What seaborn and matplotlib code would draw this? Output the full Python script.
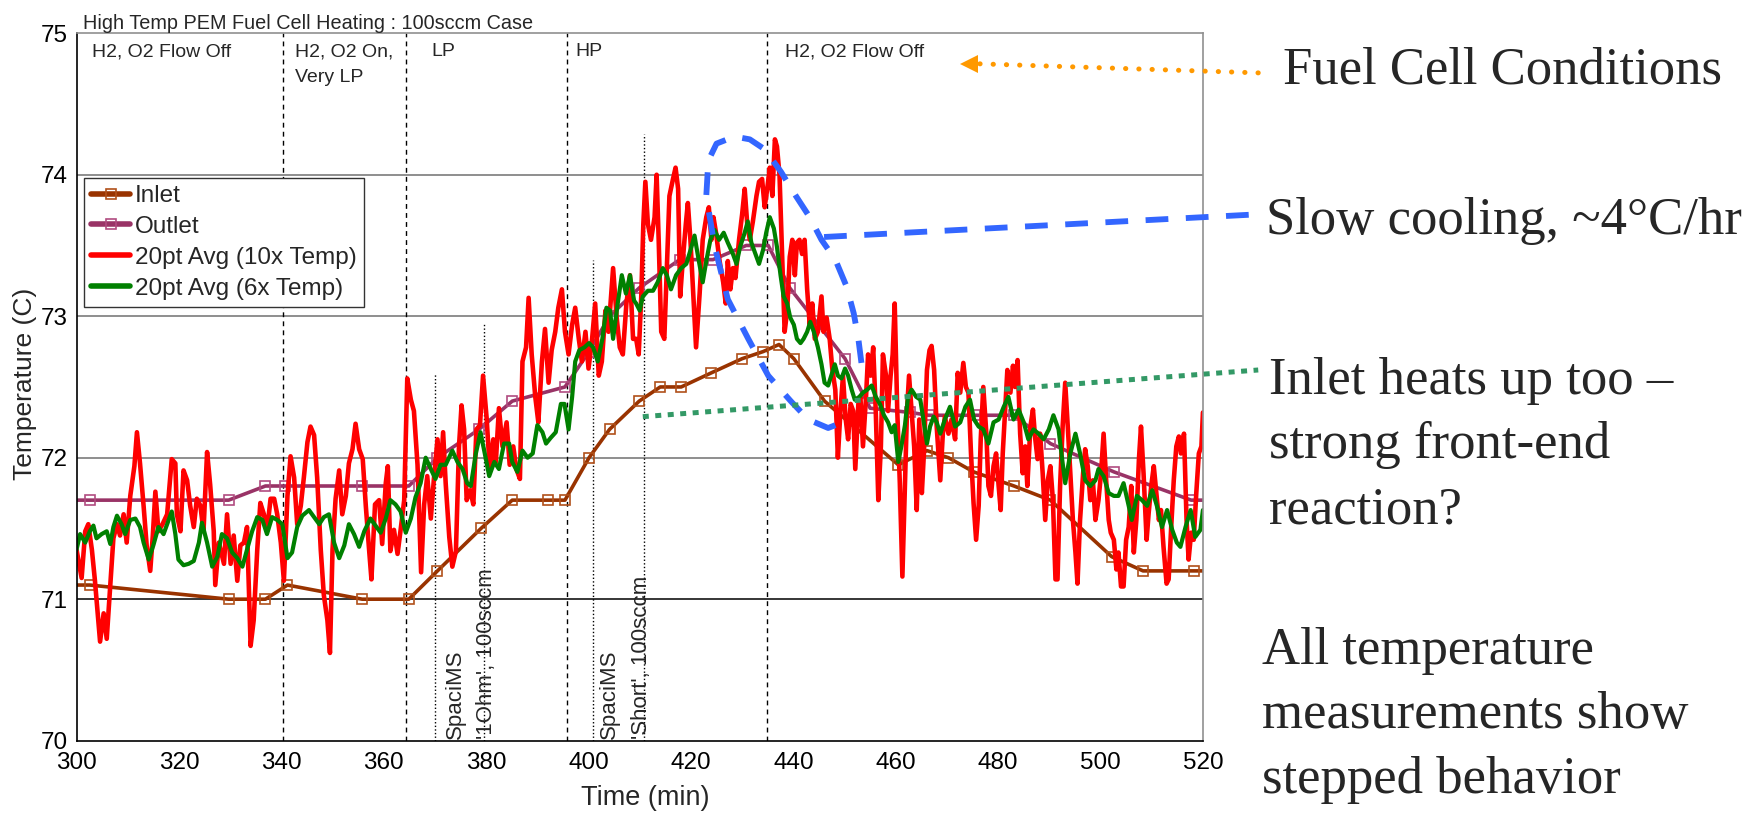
import numpy as np
import matplotlib
matplotlib.use("Agg")
import matplotlib.pyplot as plt
import seaborn as sns
from matplotlib.ticker import MultipleLocator

# ---- data ----
inlet_t = [300.0, 302.6, 329.7, 336.9, 341.2, 355.8, 364.9, 370.5, 379.0, 385.1, 392.0, 395.4,
           400.1, 404.1, 409.9, 414.0, 418.1, 424.0, 430.0, 434.1, 437.2, 440.1, 446.1, 460.5,
           466.1, 470.3, 475.2, 483.1, 490.2, 502.2, 508.3, 518.2, 520.0]
inlet_v = [71.10, 71.10, 71.00, 71.00, 71.10, 71.00, 71.00, 71.20, 71.50, 71.70, 71.70, 71.70,
           72.00, 72.20, 72.40, 72.50, 72.50, 72.60, 72.70, 72.75, 72.80, 72.70, 72.40, 71.95,
           72.05, 72.00, 71.90, 71.80, 71.70, 71.30, 71.20, 71.20, 71.20]

outlet_t = [300.0, 302.6, 329.7, 336.9, 340.8, 355.8, 364.9, 370.5, 378.6, 385.1, 395.4, 400.1,
            404.1, 409.9, 417.8, 424.3, 430.8, 435.1, 439.3, 450.1, 455.0, 462.8, 466.4, 475.5,
            483.1, 490.2, 502.6, 517.7, 520.0]
outlet_v = [71.70, 71.70, 71.70, 71.80, 71.80, 71.80, 71.80, 72.00, 72.20, 72.40, 72.50, 72.75,
            73.00, 73.20, 73.40, 73.40, 73.50, 73.50, 73.20, 72.70, 72.35, 72.32, 72.30, 72.30,
            72.30, 72.10, 71.90, 71.70, 71.70]

red_t = [300.0, 301.0, 301.7, 302.3, 303.0, 303.6, 304.6, 305.3, 305.9, 306.6, 307.2, 307.9,
         308.5, 309.2, 309.8, 310.5, 311.3, 311.8, 312.4, 313.1, 313.7, 314.4, 314.9, 315.4,
         316.0, 316.8, 317.7, 318.6, 319.3, 319.6, 320.3, 320.9, 321.6, 322.2, 322.9, 323.5,
         324.2, 324.8, 325.5, 326.1, 326.8, 327.1, 327.8, 328.8, 329.4, 330.1, 330.7, 331.4,
         332.0, 332.7, 333.3, 334.0, 334.6, 335.3, 335.9, 336.6, 337.2, 337.9, 338.6, 339.2,
         339.9, 340.5, 341.2, 341.8, 342.5, 343.1, 343.8, 344.4, 345.1, 345.7, 346.4, 347.0,
         347.7, 348.3, 349.0, 349.5, 350.0, 350.6, 351.3, 351.9, 352.6, 353.2, 353.9, 354.5,
         355.2, 355.9, 356.5,
         357.1, 357.6, 358.3, 359.1, 359.7, 360.4, 360.8, 361.3, 362.0, 362.7, 363.3, 364.0,
         364.6, 365.3, 365.9, 366.6, 367.3, 367.9, 368.5, 369.2, 369.8, 370.5, 371.1, 371.6,
         372.1, 372.8, 373.4, 374.1, 374.7, 375.2, 375.7, 376.2, 376.9, 377.5, 378.1, 378.8,
         379.4, 380.1, 380.7, 381.4, 381.9, 382.5, 383.2, 384.0, 384.6, 385.3, 385.9, 386.6,
         387.1, 387.8, 388.3, 388.9, 389.6, 390.2, 390.9, 391.5, 392.2, 392.8, 393.5, 394.1,
         394.8, 395.4, 396.1, 396.8, 397.4, 398.1, 398.7, 399.4, 400.0, 400.7, 401.3, 402.0,
         402.6, 403.3, 403.9, 404.8, 405.5, 406.1, 406.7, 407.4, 408.1, 408.7,
         409.3, 409.8, 410.3, 410.7, 411.1, 411.6, 412.2, 412.9, 413.3, 413.7, 414.2, 414.8,
         415.3, 415.8, 416.5, 417.0, 417.5, 417.9, 418.4, 419.0, 419.4, 419.9, 420.4, 421.0,
         421.7, 422.3, 423.0, 423.5, 424.0, 424.4, 424.9, 425.6, 426.3, 426.8, 427.2, 427.7,
         428.2, 428.7, 429.4, 430.0, 430.5, 431.0, 431.5, 432.1, 432.8, 433.3, 433.9, 434.4,
         434.9, 435.4, 435.9, 436.4, 436.8, 437.3, 437.9, 438.3, 438.8, 439.3, 439.8, 440.3,
         440.7, 441.2, 441.7, 442.2, 442.7, 443.2, 443.7, 444.2, 444.8, 445.5, 445.9, 446.5,
         447.1, 447.6, 448.2, 448.7, 449.2, 449.7, 450.2, 450.7, 451.2, 451.7, 452.1, 452.7,
         453.1, 453.6, 454.2, 454.6, 455.1, 455.6, 456.1, 456.6, 457.1, 457.5, 458.1, 458.5,
         459.0, 459.4, 459.8, 460.3, 460.8, 461.3, 461.8, 462.2, 462.6, 463.1, 463.6,
         464.1, 464.6, 465.1, 465.5, 466.1, 466.6, 467.0, 467.5, 468.0, 468.7, 469.2, 469.6,
         470.3, 470.9, 471.6, 472.1, 472.6, 473.2, 473.7, 474.2, 474.7, 475.2, 475.7, 476.2,
         476.6, 477.1, 477.7, 478.1, 478.6, 479.1, 479.6, 480.1, 480.5, 480.9, 481.4, 481.8,
         482.4, 482.9, 483.3, 483.8, 484.3, 484.8, 485.3, 485.7, 486.3, 486.8, 487.2, 487.7,
         488.2, 488.7, 489.2, 489.7, 490.2, 490.7, 491.2, 491.6, 492.1, 492.6, 493.1, 493.6,
         494.1, 494.6, 495.1, 495.5, 496.0, 496.6, 497.0, 497.5, 498.0, 498.5, 499.0, 499.6,
         500.1, 500.6, 501.1, 501.6, 502.0, 502.6, 503.1, 503.5, 504.0, 504.5, 505.0, 505.5,
         506.0, 506.5, 507.0, 507.5, 507.9, 508.4, 509.0, 509.4, 509.9, 510.4, 510.9, 511.4,
         511.8, 512.3, 512.9, 513.3, 513.8, 514.3, 514.8, 515.3, 515.7, 516.3, 516.8, 517.2,
         517.7, 518.2, 518.7, 519.2, 519.7, 520.0]
red_v = [71.35, 71.15, 71.48, 71.53, 71.35, 71.13, 70.70, 70.90, 70.72, 71.10, 71.43, 71.53,
         71.45, 71.60, 71.40, 71.73, 71.94, 72.18, 71.96, 71.66, 71.38, 71.20, 71.45, 71.76,
         71.48, 71.53, 71.60, 71.99, 71.96, 71.60, 71.48, 71.91, 71.84, 71.66, 71.51, 71.71,
         71.66, 71.48, 72.04, 71.81, 71.48, 71.10, 71.40, 71.25, 71.60, 71.25, 71.45, 71.13,
         71.38, 71.40, 71.51, 70.67, 70.85, 71.35, 71.68, 71.60, 71.48, 71.71, 71.71, 71.60,
         71.40, 71.13, 71.73, 72.01, 71.86, 71.53, 71.66, 71.86, 72.11, 72.22, 72.16, 71.86,
         71.35, 71.03, 70.85, 70.62, 71.35, 71.71, 71.91, 71.60, 71.73, 71.96, 72.06, 72.24,
         72.06, 71.99, 71.66,
         71.37, 71.14, 71.67, 71.70, 71.39, 71.82, 71.94, 71.34, 71.49, 71.32, 71.49, 71.70,
         72.56, 72.41, 72.33, 71.95, 71.19, 71.67, 71.87, 71.57, 71.85, 72.13, 71.87, 72.18,
         71.82, 71.44, 71.23, 71.34, 72.08, 72.37, 72.20, 71.70, 71.77, 71.67, 72.20, 72.23,
         72.58, 72.28, 71.92, 72.13, 71.97, 72.35, 72.08, 72.25, 71.95, 72.08, 71.92, 71.85,
         72.68, 72.78, 73.13, 72.73, 72.43, 72.25, 72.68, 72.91, 72.53, 72.76, 72.89, 73.06,
         73.19, 72.89, 72.73, 72.94, 73.06, 72.84, 72.68, 72.89, 72.63, 72.84, 73.09, 72.58,
         72.68, 73.04, 72.89, 73.34, 72.99, 72.78, 72.73, 73.09, 73.29, 72.84,
         72.84, 72.73, 73.14, 73.65, 73.95, 73.65, 73.54, 73.70, 74.00, 73.54, 72.89, 72.84,
         73.34, 73.85, 73.97, 74.05, 73.90, 73.14, 73.39, 73.65, 73.80, 73.54, 73.19, 72.78,
         73.16, 73.54, 73.70, 73.77, 73.54, 73.70, 73.59, 73.39, 73.24, 73.09, 73.39, 73.19,
         73.34, 73.27, 73.54, 73.72, 73.90, 73.65, 73.54, 73.67, 73.85, 73.95, 73.97, 73.77,
         73.90, 74.05, 73.85, 74.25, 74.20, 74.00, 73.34, 72.89, 73.04, 73.42, 73.54, 73.29,
         73.52, 73.54, 73.44, 73.54, 73.19, 72.94, 73.09, 72.84, 72.89, 73.14, 72.89, 72.99,
         72.84, 72.63, 72.48, 72.00, 72.33, 72.58, 72.28, 72.13, 72.38, 72.33, 71.92, 72.38,
         72.43, 72.08, 72.43, 72.73, 72.58, 72.78, 72.33, 71.70, 72.08, 72.73, 72.58, 72.33,
         72.58, 72.73, 73.09, 72.33, 71.82, 71.16, 71.82, 72.33, 72.58, 72.33, 72.08,
         71.63, 72.27, 71.75, 72.03, 72.62, 72.76, 72.79, 72.62, 72.22, 71.84, 72.17, 72.29,
         72.17, 72.27, 72.13, 72.60, 72.46, 72.67, 72.50, 72.46, 72.03, 71.68, 71.42, 71.66,
         72.13, 72.50, 72.17, 71.80, 71.73, 71.94, 72.03, 71.80, 71.63, 72.03, 72.36, 72.62,
         72.46, 72.65, 72.50, 72.69, 72.17, 71.89, 72.08, 71.80, 72.22, 72.34, 72.15, 71.99,
         72.17, 71.89, 71.56, 71.84, 71.94, 71.70, 71.14, 71.14, 71.80, 72.22, 72.53, 72.22,
         71.89, 71.56, 71.33, 71.11, 71.56, 71.89, 72.06, 71.94, 71.70, 71.84, 71.56, 71.70,
         71.89, 72.17, 71.84, 71.56, 71.47, 71.42, 71.21, 71.33, 71.09, 71.09, 71.42, 71.51,
         71.80, 71.33, 71.56, 71.99, 72.22, 71.89, 71.42, 71.61, 71.80, 71.94, 71.75, 71.56,
         71.63, 71.37, 71.11, 71.14, 71.51, 71.84, 72.08, 72.15, 72.03, 72.17, 71.56, 71.28,
         71.47, 71.42, 71.75, 72.03, 72.08, 72.32]

green_t = [300.0, 300.7, 301.7, 302.6, 303.3, 303.9, 304.9, 305.9, 306.6, 307.2, 307.9, 308.8,
           309.5, 310.5, 311.5, 312.4, 313.1, 314.1, 315.0, 316.0, 317.0, 318.0, 318.6, 319.3,
           319.9, 320.9, 321.9, 322.9, 323.9, 324.5, 325.5, 326.5, 327.5, 328.4, 329.4, 330.4,
           331.4, 332.4, 333.3, 334.3, 335.3, 336.3, 337.2, 338.2, 339.2, 340.2, 341.2, 342.1,
           343.1, 344.1, 345.4, 346.4, 347.4, 348.3, 349.3, 350.3, 351.3, 352.3, 353.2, 354.2,
           355.2, 356.2,
           357.4, 358.4, 359.4, 360.4, 361.3, 362.3, 363.3, 364.3, 365.3, 366.2, 367.2, 368.2,
           369.2, 370.1, 371.1, 372.1, 373.4, 374.4, 375.4, 376.3, 377.0, 378.0, 378.9, 379.9,
           380.6, 381.6, 382.5, 383.5, 384.5, 385.1, 386.1, 387.1, 388.1, 389.1, 390.0, 391.0,
           391.7, 392.6, 393.6, 394.6, 395.3, 396.1, 396.8, 397.4, 398.2, 399.2, 400.1, 400.9,
           401.8, 402.7, 403.5, 404.2, 404.8, 405.7, 406.5, 407.3, 408.1, 408.9,
           409.3, 410.0, 410.6, 411.6, 412.6, 413.5, 414.5, 415.3, 416.1, 417.1, 418.1, 419.1,
           420.1, 420.7, 421.4, 422.3, 423.0, 423.8, 424.6, 425.5, 426.4, 427.2, 428.2, 428.9,
           429.6, 430.5, 431.1, 431.8, 432.6, 433.3, 434.1, 434.7, 435.4, 436.2, 436.8, 437.5,
           438.1, 438.8, 439.4, 440.1, 440.7, 441.4, 442.0, 442.7, 443.3, 444.0, 444.8, 445.5,
           446.1, 446.8, 447.4, 448.1, 448.7, 449.4, 450.1, 450.7, 451.4, 452.0, 452.9, 453.6,
           454.4, 455.3, 456.1, 456.9, 457.7, 458.5, 459.2, 459.8, 460.5, 461.1, 461.8, 462.4,
           463.1, 464.0,
           464.8, 465.4, 466.1, 466.7, 467.4, 468.0, 468.7, 469.6, 470.6, 471.6, 472.6, 473.6,
           474.5, 475.3, 476.2, 477.1, 478.1, 479.1, 480.1, 481.1, 482.0, 483.0, 484.0, 485.0,
           485.9, 486.9, 487.9, 488.9, 489.9, 490.8, 491.8, 492.5, 493.1, 494.1, 495.1, 496.0,
           497.0, 498.0, 499.0, 499.6, 500.6, 501.6, 502.6, 503.5, 504.5, 505.5, 506.1, 507.1,
           508.1, 509.1, 510.1, 511.0, 512.0, 513.0, 514.0, 514.9, 515.6, 516.6, 517.6, 518.5,
           519.5, 520.0]
green_v = [71.35, 71.46, 71.40, 71.48, 71.52, 71.43, 71.46, 71.48, 71.39, 71.51, 71.59, 71.53,
           71.46, 71.56, 71.57, 71.51, 71.40, 71.28, 71.38, 71.51, 71.46, 71.56, 71.62, 71.46,
           71.28, 71.24, 71.25, 71.27, 71.40, 71.54, 71.40, 71.23, 71.30, 71.46, 71.43, 71.33,
           71.29, 71.23, 71.35, 71.48, 71.58, 71.56, 71.46, 71.58, 71.56, 71.53, 71.29, 71.33,
           71.51, 71.59, 71.63, 71.58, 71.53, 71.58, 71.60, 71.40, 71.29, 71.38, 71.53, 71.46,
           71.37, 71.48,
           71.57, 71.52, 71.47, 71.57, 71.70, 71.67, 71.62, 71.47, 71.57, 71.72, 71.82, 72.00,
           71.92, 71.85, 71.95, 71.95, 72.05, 71.97, 71.92, 71.82, 71.80, 72.03, 72.18, 72.00,
           71.87, 71.97, 71.92, 72.10, 72.10, 71.97, 71.90, 72.05, 72.00, 72.03, 72.23, 72.18,
           72.10, 72.14, 72.18, 72.38, 72.38, 72.20, 72.43, 72.68, 72.76, 72.78, 72.81, 72.78,
           72.68, 72.84, 73.06, 73.04, 72.84, 73.09, 73.29, 73.16, 73.29, 73.11,
           73.09, 73.04, 73.14, 73.18, 73.18, 73.24, 73.34, 73.29, 73.19, 73.29, 73.34, 73.37,
           73.49, 73.57, 73.42, 73.24, 73.39, 73.54, 73.61, 73.54, 73.59, 73.52, 73.44, 73.37,
           73.49, 73.59, 73.67, 73.52, 73.44, 73.37, 73.47, 73.59, 73.70, 73.62, 73.49, 73.29,
           73.14, 73.09, 72.99, 72.94, 72.84, 72.81, 72.84, 72.89, 72.96, 72.89, 72.78, 72.66,
           72.53, 72.51, 72.58, 72.66, 72.58, 72.56, 72.63, 72.58, 72.48, 72.41, 72.43, 72.46,
           72.48, 72.51, 72.43, 72.38, 72.30, 72.25, 72.18, 72.23, 71.97, 72.08, 72.23, 72.43,
           72.48, 72.43,
           72.41, 72.27, 72.10, 72.22, 72.29, 72.25, 72.17, 72.27, 72.36, 72.22, 72.25, 72.36,
           72.41, 72.27, 72.22, 72.20, 72.10, 72.25, 72.27, 72.36, 72.43, 72.27, 72.34, 72.25,
           72.13, 72.20, 72.17, 72.13, 72.20, 72.30, 72.20, 71.99, 71.82, 72.03, 72.17, 72.03,
           71.84, 71.80, 71.84, 71.92, 71.87, 71.75, 71.73, 71.73, 71.82, 71.66, 71.56, 71.73,
           71.70, 71.66, 71.77, 71.66, 71.51, 71.63, 71.49, 71.40, 71.37, 71.51, 71.63, 71.44,
           71.49, 71.63]

# condition boundaries and SpaciMS events
phase_lines = [340.4, 364.3, 395.7, 434.9]
phase_labels = ["H2, O2 Flow Off", "H2, O2 On,\nVery LP", "LP", "HP", "H2, O2 Flow Off"]
phase_label_x = [303.0, 342.6, 369.3, 397.4, 438.4]
event_x = [370.1, 379.6, 400.8, 410.8]
event_top = [72.6, 72.95, 73.4, 74.29]
event_labels = ["SpaciMS\n'1Ohm', 100sccm", "SpaciMS\n'Short', 100sccm"]
event_label_x = [371.9, 402.1]

# hand-drawn callouts (data coords)
loop_t = [448.2, 446.8, 442.9, 439.5, 435.1, 431.2, 427.2, 424.6, 423.0, 423.4, 425.0, 428.5,
          431.5, 434.4, 437.6, 440.5, 443.2, 445.5, 448.2, 450.4, 451.8, 452.7, 453.3]
loop_v = [72.23, 72.21, 72.27, 72.40, 72.58, 72.84, 73.12, 73.50, 73.85, 74.10, 74.22, 74.27,
          74.25, 74.18, 74.02, 73.85, 73.70, 73.54, 73.40, 73.21, 73.02, 72.84, 72.67]
cool_t = [446.0, 530.6]
cool_v = [73.56, 73.72]
inlet_note_t = [410.6, 530.8]
inlet_note_v = [72.29, 72.62]
cond_arrow_t = [530.8, 475.5]
cond_arrow_v = [74.72, 74.785]

sns.set_style("white")
plt.rcParams['font.family'] = ['Liberation Sans', 'DejaVu Sans']

fig = plt.figure(figsize=(17.51, 8.15), dpi=100)
ax = fig.add_axes([0.0437, 0.0912, 0.6433, 0.868])

mk = dict(marker='s', markersize=7, markerfacecolor='none', markeredgewidth=1.2)
sns.lineplot(x=inlet_t, y=inlet_v, ax=ax, color='#993300', linewidth=2.6, label='Inlet',
             markeredgecolor='#b0501a', markevery=list(range(1, len(inlet_t) - 1)),
             sort=False, estimator=None, **mk)
sns.lineplot(x=outlet_t, y=outlet_v, ax=ax, color='#993366', linewidth=2.6, label='Outlet',
             markeredgecolor='#b04c80', markevery=list(range(1, len(outlet_t) - 1)),
             sort=False, estimator=None, **mk)
sns.lineplot(x=red_t, y=red_v, ax=ax, color='#ff0000', linewidth=3.3,
             label='20pt Avg (10x Temp)', sort=False, estimator=None)
sns.lineplot(x=green_t, y=green_v, ax=ax, color='#008000', linewidth=3.0,
             label='20pt Avg (6x Temp)', sort=False, estimator=None)

ax.set_xlim(300, 520)
ax.set_ylim(70, 75)
ax.xaxis.set_major_locator(MultipleLocator(20))
ax.xaxis.set_minor_locator(MultipleLocator(10))
ax.yaxis.set_major_locator(MultipleLocator(1))
ax.yaxis.set_minor_locator(MultipleLocator(0.5))
ax.tick_params(axis='both', which='major', direction='inout', length=10, width=1,
               color='black', labelsize=17.5, labelcolor='black')
ax.tick_params(axis='x', which='major', pad=3)
ax.tick_params(axis='y', which='major', pad=1.5)
ax.tick_params(axis='x', which='minor', direction='inout', length=8, width=1, color='black')
ax.tick_params(axis='y', which='minor', direction='out', length=5, width=1, color='black')
ax.yaxis.set_major_formatter(matplotlib.ticker.FormatStrFormatter('%d'))

ax.grid(False)
for yv in [72, 73, 74]:
    ax.axhline(yv, color='#707070', lw=1.1, zorder=0.5)
ax.axhline(71, color='black', lw=1.1, zorder=0.5)

for side in ['left', 'bottom']:
    ax.spines[side].set_color('black')
    ax.spines[side].set_linewidth(1.2)
for side in ['top', 'right']:
    ax.spines[side].set_color('#909090')
    ax.spines[side].set_linewidth(1.2)

for x in phase_lines:
    ax.axvline(x, color='black', lw=1.0, linestyle=(0, (3.5, 3)), zorder=1)
for x, top in zip(event_x, event_top):
    ax.plot([x, x], [70, top], color='black', lw=1.0, linestyle=(0, (1, 1.6)), zorder=1)

for x, s in zip(phase_label_x, phase_labels):
    ax.text(x, 74.93, s, fontsize=14, ha='left', va='top', linespacing=1.7)
for x, s in zip(event_label_x, event_labels):
    ax.text(x, 70.01, s, fontsize=16, rotation=90, ha='left', va='bottom', linespacing=1.65)

ax.set_xlabel("Time (min)", fontsize=19.5)
ax.set_ylabel("Temperature (C)", fontsize=19)
ax.xaxis.set_label_coords(0.505, -0.081)
ax.xaxis.label.set_va('center')
ax.yaxis.set_label_coords(-0.046, 0.505)
ax.yaxis.label.set_va('center')

leg = ax.legend(loc='upper left', bbox_to_anchor=(0.0067, 0.7955), borderaxespad=0,
                fontsize=17.5, frameon=True, fancybox=False, framealpha=1, edgecolor='#333333',
                handlelength=1.6, handletextpad=0.2, labelspacing=0.36, borderpad=0.3,
                numpoints=1)
leg.get_frame().set_linewidth(1.0)
for h in leg.legend_handles:
    h.set_linewidth(4)

# callouts drawn over the chart
ax.plot(loop_t, loop_v, color='#3366ff', lw=4.2, linestyle=(0, (3.9, 3.0)),
        clip_on=False, zorder=6, solid_capstyle='butt')
ax.plot(cool_t, cool_v, color='#3366ff', lw=4.2, linestyle=(0, (3.9, 3.0)),
        clip_on=False, zorder=6)
ax.plot(inlet_note_t, inlet_note_v, color='#339966', lw=3.6, linestyle=(0, (1.2, 1.3)),
        clip_on=False, zorder=6)
ax.plot(cond_arrow_t, cond_arrow_v, color='#ff9900', lw=3.6, linestyle=(0, (0.05, 2.6)),
        dash_capstyle='round', clip_on=False, zorder=6)
ax.plot([cond_arrow_t[1] - 1.2], [cond_arrow_v[1]], marker='<', markersize=13,
        color='#ff9900', clip_on=False, zorder=6, markeredgewidth=0)

fig.text(0.0475, 0.965, "High Temp PEM Fuel Cell Heating : 100sccm Case", fontsize=14.3,
         ha='left', va='baseline')

serif = ['Liberation Serif', 'DejaVu Serif']
fig.text(0.7327, 1 - 84 / 815, "Fuel Cell Conditions", fontsize=38, family=serif,
         ha='left', va='baseline')
fig.text(0.7230, 1 - 234 / 815, "Slow cooling, ~4\u00b0C/hr", fontsize=38, family=serif,
         ha='left', va='baseline')
fig.text(0.7247, 1 - 523 / 815, "Inlet heats up too \u2013\nstrong front-end\nreaction?",
         fontsize=38, family=serif, ha='left', va='baseline', linespacing=1.45)
fig.text(0.7207, 1 - 793 / 815, "All temperature\nmeasurements show\nstepped behavior",
         fontsize=38, family=serif, ha='left', va='baseline', linespacing=1.45)

fig.savefig("out.png", dpi=100)
